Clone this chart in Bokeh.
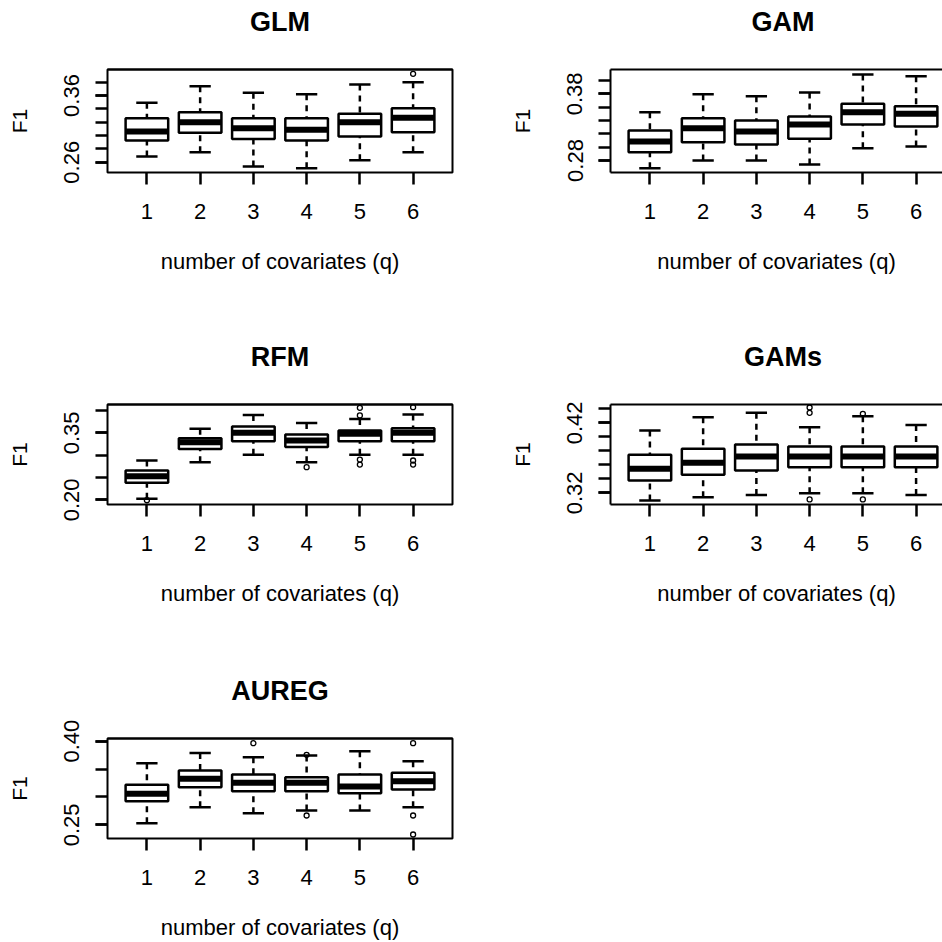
from bokeh.plotting import figure
from bokeh.layouts import column, row
from bokeh.models import (FixedTicker, Title, LinearAxis, Range1d, PrintfTickFormatter,
                          CustomJSTickFormatter)
from bokeh.embed import file_html
from bokeh.resources import INLINE

FONT = "Liberation Sans"
covariates = [1, 2, 3, 4, 5, 6]
x_label = "number of covariates (q)"
y_label = "F1"

# ---- GLM ----
glm_lower = [0.2685, 0.275, 0.2535, 0.251, 0.263, 0.275]
glm_q1 = [0.2925, 0.304, 0.295, 0.2925, 0.2985, 0.305]
glm_med = [0.306, 0.320, 0.311, 0.3085, 0.320, 0.3265]
glm_q3 = [0.326, 0.335, 0.326, 0.326, 0.3325, 0.341]
glm_upper = [0.349, 0.374, 0.364, 0.362, 0.3765, 0.380]
glm_out_x = [6]
glm_out_y = [0.3925]
glm_ticks = [0.26, 0.28, 0.30, 0.32, 0.34, 0.36, 0.38]
glm_labeled = [0.26, 0.36]

# ---- GAM ----
gam_lower = [0.2685, 0.280, 0.280, 0.274, 0.2985, 0.301]
gam_q1 = [0.2925, 0.3075, 0.304, 0.3125, 0.334, 0.331]
gam_med = [0.3085, 0.3285, 0.3235, 0.334, 0.3525, 0.350]
gam_q3 = [0.325, 0.3435, 0.340, 0.346, 0.365, 0.3615]
gam_upper = [0.3525, 0.3795, 0.3765, 0.382, 0.409, 0.4065]
gam_out_x = []
gam_out_y = []
gam_ticks = [0.28, 0.30, 0.32, 0.34, 0.36, 0.38, 0.40]
gam_labeled = [0.28, 0.38]

# ---- RFM ----
rfm_lower = [0.2022, 0.284, 0.3007, 0.284, 0.3007, 0.3007]
rfm_q1 = [0.238, 0.314, 0.3313, 0.318, 0.3313, 0.3313]
rfm_med = [0.253, 0.329, 0.350, 0.333, 0.348, 0.350]
rfm_q3 = [0.2657, 0.338, 0.3642, 0.346, 0.3552, 0.3604]
rfm_upper = [0.288, 0.359, 0.390, 0.372, 0.381, 0.391]
rfm_out_x = [1, 4, 5, 5, 5, 5, 6, 6, 6]
rfm_out_y = [0.199, 0.273, 0.389, 0.406, 0.290, 0.279, 0.4075, 0.288, 0.279]
rfm_ticks = [0.20, 0.25, 0.30, 0.35, 0.40]
rfm_labeled = [0.20, 0.35]

# ---- GAMs ----
gams_lower = [0.309, 0.3138, 0.317, 0.3195, 0.3195, 0.317]
gams_q1 = [0.3376, 0.3457, 0.352, 0.3567, 0.3567, 0.3567]
gams_med = [0.3543, 0.3629, 0.3719, 0.3719, 0.3719, 0.3719]
gams_q3 = [0.3743, 0.3829, 0.389, 0.3862, 0.3862, 0.3862]
gams_upper = [0.409, 0.428, 0.4343, 0.4138, 0.4295, 0.417]
gams_out_x = [4, 4, 4, 5, 5]
gams_out_y = [0.4419, 0.4343, 0.3105, 0.4329, 0.3105]
gams_ticks = [0.32, 0.34, 0.36, 0.38, 0.40, 0.42, 0.44]
gams_labeled = [0.32, 0.42]

# ---- AUREG ----
aureg_lower = [0.253, 0.2817, 0.2709, 0.2757, 0.2757, 0.2817]
aureg_q1 = [0.2924, 0.3175, 0.3104, 0.3104, 0.3068, 0.3134]
aureg_med = [0.3056, 0.3325, 0.3253, 0.3253, 0.3187, 0.3283]
aureg_q3 = [0.3217, 0.3474, 0.3403, 0.3355, 0.3403, 0.3432]
aureg_upper = [0.3606, 0.379, 0.3713, 0.3743, 0.3821, 0.3642]
aureg_out_x = [3, 4, 4, 6, 6, 6]
aureg_out_y = [0.3964, 0.3755, 0.2667, 0.3964, 0.2667, 0.2327]
aureg_ticks = [0.25, 0.30, 0.35, 0.40]
aureg_labeled = [0.25, 0.40]

# layout geometry (pixels)
COLS = [dict(width=471, left=107, right=19, xend=6.74, full=True),
        dict(width=471, left=139, right=0, xend=6.496, full=False)]
ROWS = [dict(height=334, top=69, bottom=162),
        dict(height=335, top=70, bottom=165),
        dict(height=273, top=69, bottom=104)]

LW = 2.5


def panel(name, lower, q1, med, q3, upper, out_x, out_y, ticks, labeled,
          yr, col, rw, title_w):
    c = COLS[col]
    r = ROWS[rw]
    p = figure(width=c["width"], height=r["height"],
               x_range=Range1d(0.26, c["xend"]), y_range=Range1d(*yr),
               output_backend="svg", toolbar_location=None,
               min_border_left=c["left"], min_border_right=c["right"],
               min_border_top=r["top"], min_border_bottom=r["bottom"],
               x_axis_location=None, y_axis_location=None)
    p.xgrid.visible = False
    p.ygrid.visible = False
    p.background_fill_color = "white"
    p.border_fill_color = "white"
    if c["full"]:
        p.outline_line_color = "black"
        p.outline_line_width = 2
    else:
        p.outline_line_color = None

    # y axis
    ya = LinearAxis(ticker=FixedTicker(ticks=labeled, minor_ticks=ticks),
                    formatter=PrintfTickFormatter(format="%.2f"))
    ya.axis_line_color = None if c["full"] else "black"
    ya.axis_line_width = 2
    ya.major_tick_out = 12
    ya.major_tick_in = 0
    ya.minor_tick_out = 12
    ya.minor_tick_in = 0
    ya.major_tick_line_width = LW
    ya.minor_tick_line_width = LW
    ya.minor_tick_line_color = "black"
    ya.major_label_orientation = "vertical"
    ya.major_label_standoff = 16
    ya.major_label_text_font = FONT
    ya.major_label_text_font_size = "22px"
    ya.major_label_text_color = "black"
    ya.axis_label = y_label
    ya.axis_label_text_font = FONT
    ya.axis_label_text_font_size = "21px"
    ya.axis_label_text_font_style = "normal"
    ya.axis_label_text_color = "black"
    ya.axis_label_standoff = 31
    p.add_layout(ya, "left")

    # x axis
    xa = LinearAxis(ticker=FixedTicker(ticks=covariates, minor_ticks=[]))
    xa.axis_line_color = None if c["full"] else "black"
    xa.axis_line_width = 2
    xa.major_tick_out = 12
    xa.major_tick_in = 0
    xa.major_tick_line_width = LW
    xa.major_label_standoff = 19
    xa.major_label_text_font = FONT
    xa.major_label_text_font_size = "22px"
    xa.major_label_text_color = "black"
    xa.axis_label = x_label
    xa.axis_label_text_font = FONT
    xa.axis_label_text_font_size = "22px"
    xa.axis_label_text_font_style = "normal"
    xa.axis_label_text_color = "black"
    xa.axis_label_standoff = 27
    p.add_layout(xa, "below")

    # top frame line; its invisible tick spaces the title away from the frame
    ta = LinearAxis(ticker=FixedTicker(ticks=[3], minor_ticks=[]),
                    formatter=CustomJSTickFormatter(code="return ''"))
    ta.axis_line_color = "black"
    ta.axis_line_width = 2
    ta.major_tick_out = 32
    ta.major_tick_in = 0
    ta.major_tick_line_color = None
    ta.minor_tick_out = 0
    ta.minor_tick_in = 0
    ta.major_label_standoff = 0
    ta.major_label_text_font_size = "1px"
    p.add_layout(ta, "above")

    # boxes
    half = 0.4
    cap = 0.2
    p.segment(x0=covariates, y0=lower, x1=covariates, y1=q1,
              line_color="black", line_width=LW, line_dash="6 5")
    p.segment(x0=covariates, y0=upper, x1=covariates, y1=q3,
              line_color="black", line_width=LW, line_dash="6 5")
    p.segment(x0=[x - cap for x in covariates], y0=lower,
              x1=[x + cap for x in covariates], y1=lower,
              line_color="black", line_width=LW)
    p.segment(x0=[x - cap for x in covariates], y0=upper,
              x1=[x + cap for x in covariates], y1=upper,
              line_color="black", line_width=LW)
    p.quad(left=[x - half for x in covariates], right=[x + half for x in covariates],
           bottom=q1, top=q3, fill_color="white", line_color="black", line_width=LW)
    p.segment(x0=[x - half for x in covariates], y0=med,
              x1=[x + half for x in covariates], y1=med,
              line_color="black", line_width=6, line_cap="butt")
    if out_x:
        p.scatter(x=out_x, y=out_y, marker="circle", size=5, fill_color=None,
                  line_color="black", line_width=1.3)

    # title
    if c["full"]:
        t = Title(text=name, align="center")
    else:
        t = Title(text=name, align="left", offset=172.5 - title_w / 2)
    t.text_font = FONT
    t.text_font_size = "27px"
    t.text_font_style = "bold"
    t.text_color = "black"
    t.standoff = 2
    p.add_layout(t, "above")
    return p


p1 = panel("GLM", glm_lower, glm_q1, glm_med, glm_q3, glm_upper, glm_out_x, glm_out_y,
           glm_ticks, glm_labeled, (0.2446, 0.399), 0, 0, 0)
p2 = panel("GAM", gam_lower, gam_q1, gam_med, gam_q3, gam_upper, gam_out_x, gam_out_y,
           gam_ticks, gam_labeled, (0.262, 0.4165), 1, 0, 63)
p3 = panel("RFM", rfm_lower, rfm_q1, rfm_med, rfm_q3, rfm_upper, rfm_out_x, rfm_out_y,
           rfm_ticks, rfm_labeled, (0.1895, 0.4134), 0, 1, 0)
p4 = panel("GAMs", gams_lower, gams_q1, gams_med, gams_q3, gams_upper, gams_out_x, gams_out_y,
           gams_ticks, gams_labeled, (0.3033, 0.4462), 1, 1, 78)
p5 = panel("AUREG", aureg_lower, aureg_q1, aureg_med, aureg_q3, aureg_upper, aureg_out_x, aureg_out_y,
           aureg_ticks, aureg_labeled, (0.2255, 0.4048), 0, 2, 0)

layout = column(row(p1, p2), row(p3, p4), p5)
open("out.html", "w").write(file_html(layout, INLINE))
